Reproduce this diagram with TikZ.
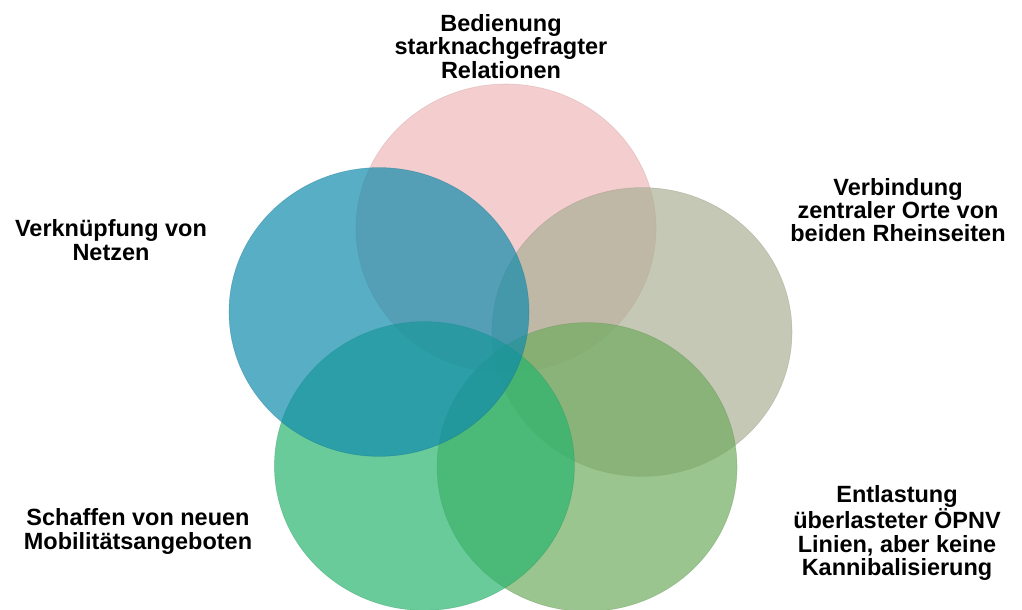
\documentclass[tikz,border=0pt]{standalone}
\usepackage{fontspec}
\setmainfont{Liberation Sans}
\usepackage{tikz}
\usetikzlibrary{shapes,positioning,calc}
\definecolor{vennpink}{RGB}{239,184,186}
\definecolor{vennblue}{RGB}{17,139,172}
\definecolor{venngray}{RGB}{171,176,149}
\definecolor{venngreen}{RGB}{42,181,111}
\definecolor{vennolive}{RGB}{112,172,95}
\tikzset{
    venn/.style={ellipse, draw=#1!80!black, line width=0.4pt, draw opacity=0.35, fill=#1, fill opacity=0.7, minimum width=7.5cm, minimum height=7.22cm, inner sep=0pt},
    goaltext/.style={font=\bfseries\fontsize{16.7}{16.6}\selectfont, align=center, text=black, inner sep=0pt}
}

\begin{document}
\begin{tikzpicture}
    \useasboundingbox (0,0) rectangle (25.55,15.25);

    % Circles
    \node [venn=vennpink] (relationen) at (12.65,9.54) {};
    \node [venn=venngray] (rhein) at (16.05,6.95) {};
    \node [venn=vennolive] (entlastung) at (14.675,3.575) {};
    \node [venn=venngreen] (mobil) at (10.61,3.6) {};
    \node [venn=vennblue] (netze) at (9.475,7.45) {};

    % Goals
    \node [goaltext] (trelationen) at (12.525,14.09) {Bedienung\\starknachgefragter\\Relationen};
    \node [goaltext] (tnetze) at (2.775,9.25) {Verknüpfung von\\Netzen};
    \node [goaltext] (trhein) at (22.45,10.0) {Verbindung\\zentraler Orte von\\beiden Rheinseiten};
    \node [goaltext] (tmobil) at (3.45,1.96) {Schaffen von neuen\\Mobilitätsangeboten};
    \node [goaltext] (tentlastung) at (22.425,1.925) {Entlastung\\überlasteter ÖPNV\\Linien, aber keine\\Kannibalisierung};
\end{tikzpicture}
\end{document}
